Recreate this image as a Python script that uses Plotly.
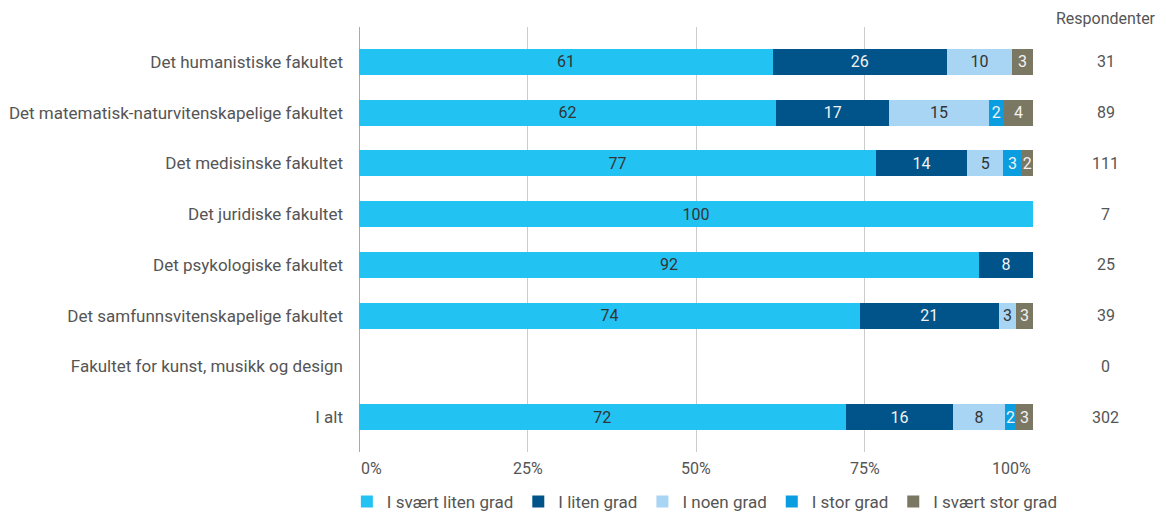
import plotly.graph_objects as go

categories = [
    "Det humanistiske fakultet",
    "Det matematisk-naturvitenskapelige fakultet",
    "Det medisinske fakultet",
    "Det juridiske fakultet",
    "Det psykologiske fakultet",
    "Det samfunnsvitenskapelige fakultet",
    "Fakultet for kunst, musikk og design",
    "I alt",
]
respondents = [31, 89, 111, 7, 25, 39, 0, 302]

series_names = ["I svært liten grad", "I liten grad", "I noen grad", "I stor grad", "I svært stor grad"]
# percentages (labels shown rounded to whole numbers)
svaert_liten = [61.4, 61.9, 76.7, 100, 92, 74.3, None, 72.2]
liten = [25.8, 16.8, 13.5, None, 8, 20.6, None, 16.0]
noen = [9.7, 14.7, 5.4, None, None, 2.6, None, 7.6]
stor = [None, 2.3, 2.7, None, None, None, None, 1.7]
svaert_stor = [3.1, 4.3, 1.7, None, None, 2.5, None, 2.5]
series_values = [svaert_liten, liten, noen, stor, svaert_stor]

colors = ["#22C3F3", "#00548A", "#A9D5F5", "#0A9EE0", "#7A7763"]
text_colors = ["#333333", "#F2F2F2", "#333333", "#F2F2F2", "#F2F2F2"]

tick_vals = [0, 25, 50, 75, 100]
tick_labels = ["0%", "25%", "50%", "75%", "100%"]

FONT = "Roboto"
GREY = "#555555"

fig = go.Figure()
for name, vals, col, tcol in zip(series_names, series_values, colors, text_colors):
    fig.add_trace(go.Bar(
        y=categories, x=vals, name=name, orientation="h",
        marker=dict(color=col, line=dict(width=0)),
        text=[("" if v is None else str(int(v + 0.5))) for v in vals],
        textposition="inside", insidetextanchor="middle", textangle=0,
        constraintext="none",
        textfont=dict(color=tcol, size=16, family=FONT),
        width=0.51,
        hoverinfo="skip",
    ))

annotations = []
for cat, r in zip(categories, respondents):
    annotations.append(dict(x=1.108, xref="paper", y=cat, yref="y", text=str(r),
                            showarrow=False, xanchor="center", yanchor="middle",
                            font=dict(size=16, color=GREY, family=FONT)))
annotations.append(dict(x=1.108, xref="paper", y=1.0, yref="paper", yanchor="middle",
                        yshift=9, text="Respondenter", showarrow=False, xanchor="center",
                        font=dict(size=16, color=GREY, family=FONT)))

for v, lab in zip(tick_vals, tick_labels):
    anchor = "left" if v == 0 else ("right" if v == 100 else "center")
    annotations.append(dict(x=v, xref="x", y=0, yref="paper", yanchor="top", yshift=-5,
                            text=lab, showarrow=False, xanchor=anchor,
                            font=dict(size=16, color=GREY, family=FONT)))

# page has an 8px body margin, so the figure is sized to fit the window
fig.update_layout(
    barmode="stack",
    width=1158, height=504,
    margin=dict(l=351, r=133, t=19, b=60, autoexpand=False),
    paper_bgcolor="white", plot_bgcolor="white",
    font=dict(family=FONT, size=16, color=GREY),
    uniformtext=dict(minsize=16, mode="show"),
    xaxis=dict(range=[0, 100], tickvals=tick_vals, showticklabels=False,
               showgrid=True, gridcolor="#CCCCCC", gridwidth=1,
               zeroline=True, zerolinecolor="#AAAAAA", zerolinewidth=1,
               fixedrange=True, automargin=False),
    yaxis=dict(categoryorder="array", categoryarray=categories, autorange=False,
               range=[7.69, -0.69], showgrid=False, zeroline=False,
               ticks="", ticklabelstandoff=15, automargin=False,
               tickfont=dict(size=17, color=GREY, family=FONT)),
    legend=dict(orientation="h", x=-0.018, xanchor="left", y=-0.075, yanchor="top",
                font=dict(size=17, color=GREY, family=FONT),
                traceorder="normal", itemwidth=30),
    annotations=annotations,
    bargap=0.49,
)

fig.write_html("out.html")
